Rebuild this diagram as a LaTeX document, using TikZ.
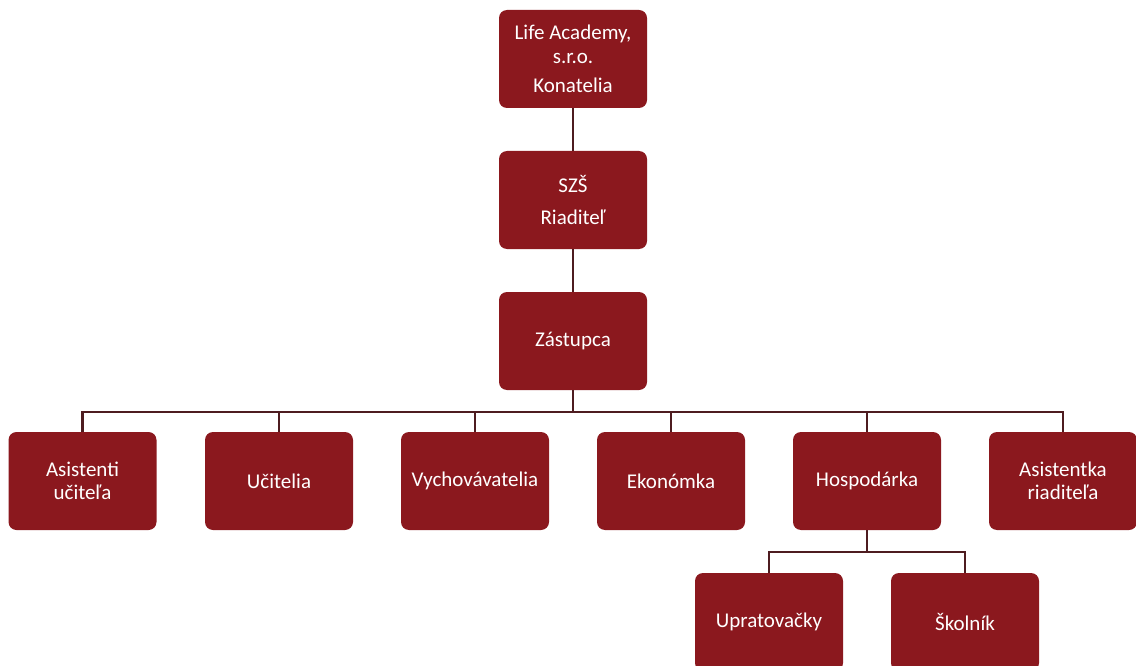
\documentclass[tikz,border=0pt]{standalone}
\usepackage{fontspec}
\setmainfont{Carlito}
\definecolor{boxred}{HTML}{8B181E}
\definecolor{linebrown}{HTML}{4E1C20}
\begin{document}
\begin{tikzpicture}[x=1pt,y=-1pt,
  orgbox/.style={draw=none,fill=boxred,rounded corners=8pt,minimum width=148pt,minimum height=98pt,
    text=white,align=center,font=\fontsize{21}{23}\selectfont,inner sep=2pt},
  conn/.style={draw=linebrown,line width=2.2pt}]
\useasboundingbox (0,0) rectangle (1136,666);
\clip (0,0) rectangle (1136,666);
\node[orgbox] (top) at (573,59) {Life Academy,\\[1pt] s.r.o.\\[6pt] Konatelia};
\node[orgbox] (szs) at (573,200) {SZŠ\\[9pt] Riaditeľ};
\node[orgbox] (zast) at (573,341) {Zástupca};
\node[orgbox] (a1) at (82.5,481) {Asistenti\\ učiteľa};
\node[orgbox] (a2) at (279,481) {Učitelia};
\node[orgbox] (a3) at (475,481) {Vychovávatelia};
\node[orgbox] (a4) at (671,481) {Ekonómka};
\node[orgbox] (a5) at (867,481) {Hospodárka};
\node[orgbox] (a6) at (1063,481) {Asistentka\\ riaditeľa};
\node[orgbox] (b1) at (769,622) {Upratovačky};
\node[orgbox] (b2) at (965,622) {Školník};
\draw[conn] (top) -- (szs);
\draw[conn] (szs) -- (zast);
\foreach \n in {a1,a2,a3,a4,a5,a6}
  \draw[conn] (zast.south) -- ++(0,22) -| (\n.north);
\foreach \n in {b1,b2}
  \draw[conn] (a5.south) -- ++(0,22) -| (\n.north);
\end{tikzpicture}
\end{document}
